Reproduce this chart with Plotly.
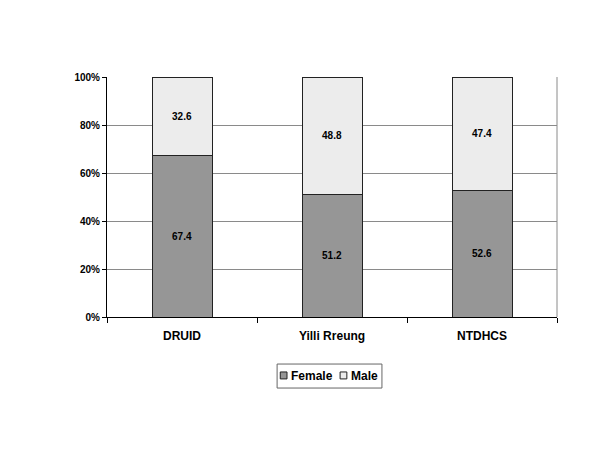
"""Stacked 100% bar chart: Female / Male share by data source."""

import plotly.graph_objects as go

sources = ["DRUID", "Yilli Rreung", "NTDHCS"]
female = [67.4, 51.2, 52.6]
male = [32.6, 48.8, 47.4]

FEMALE_COLOR = "#969696"
MALE_COLOR = "#ececec"
EDGE = "#222222"
FONT = dict(family="Liberation Sans, Arial, sans-serif", color="black", weight="bold")

fig = go.Figure()

for name, values, color in [("Female", female, FEMALE_COLOR), ("Male", male, MALE_COLOR)]:
    fig.add_trace(
        go.Bar(
            x=sources, y=values, name=name,
            marker=dict(color=color, line=dict(color=EDGE, width=1)),
            text=[f"{v:.1f}" for v in values],
            textposition="inside", insidetextanchor="middle",
            textfont=dict(size=10, **FONT),
        )
    )

# Légende dessinée à la main (boîte compacte comme l'original)
shapes = [
    dict(type="line", xref="paper", yref="paper", x0=1, x1=1, y0=0, y1=1,
         line=dict(color="#8a8a8a", width=1)),
    dict(type="rect", xref="paper", yref="paper", x0=0.378, x1=0.611, y0=-0.196, y1=-0.296,
         line=dict(color="#666666", width=1), fillcolor="white"),
    dict(type="rect", xref="paper", yref="paper", x0=0.385, x1=0.4, y0=-0.229, y1=-0.258,
         line=dict(color=EDGE, width=1), fillcolor=FEMALE_COLOR),
    dict(type="rect", xref="paper", yref="paper", x0=0.518, x1=0.533, y0=-0.229, y1=-0.258,
         line=dict(color=EDGE, width=1), fillcolor=MALE_COLOR),
]
annotations = [
    dict(text="Female", xref="paper", yref="paper", x=0.404, y=-0.244,
         xanchor="left", yanchor="middle", showarrow=False, font=dict(size=12, **FONT)),
    dict(text="Male", xref="paper", yref="paper", x=0.537, y=-0.244,
         xanchor="left", yanchor="middle", showarrow=False, font=dict(size=12, **FONT)),
]

fig.update_layout(
    barmode="stack",
    bargap=0.6,
    width=600, height=450,
    margin=dict(l=99, r=51, t=69, b=141),
    paper_bgcolor="white",
    plot_bgcolor="white",
    font=dict(size=10, **FONT),
    showlegend=False,
    xaxis=dict(
        showline=True, linecolor="black", linewidth=1,
        ticks="outside", tickson="boundaries", ticklen=5, tickcolor="black",
        tickfont=dict(size=12, **FONT),
        ticklabelstandoff=8,
    ),
    yaxis=dict(
        range=[0, 100],
        tickvals=[0, 20, 40, 60, 80, 100],
        ticktext=["0%", "20%", "40%", "60%", "80%", "100%"],
        showline=True, linecolor="black", linewidth=1,
        ticks="outside", ticklen=4, tickcolor="black",
        showgrid=True, gridcolor="#8a8a8a", gridwidth=1,
        tickfont=dict(size=10, **FONT),
        zeroline=False,
    ),
    shapes=shapes,
    annotations=annotations,
)

fig.write_html("out.html")
